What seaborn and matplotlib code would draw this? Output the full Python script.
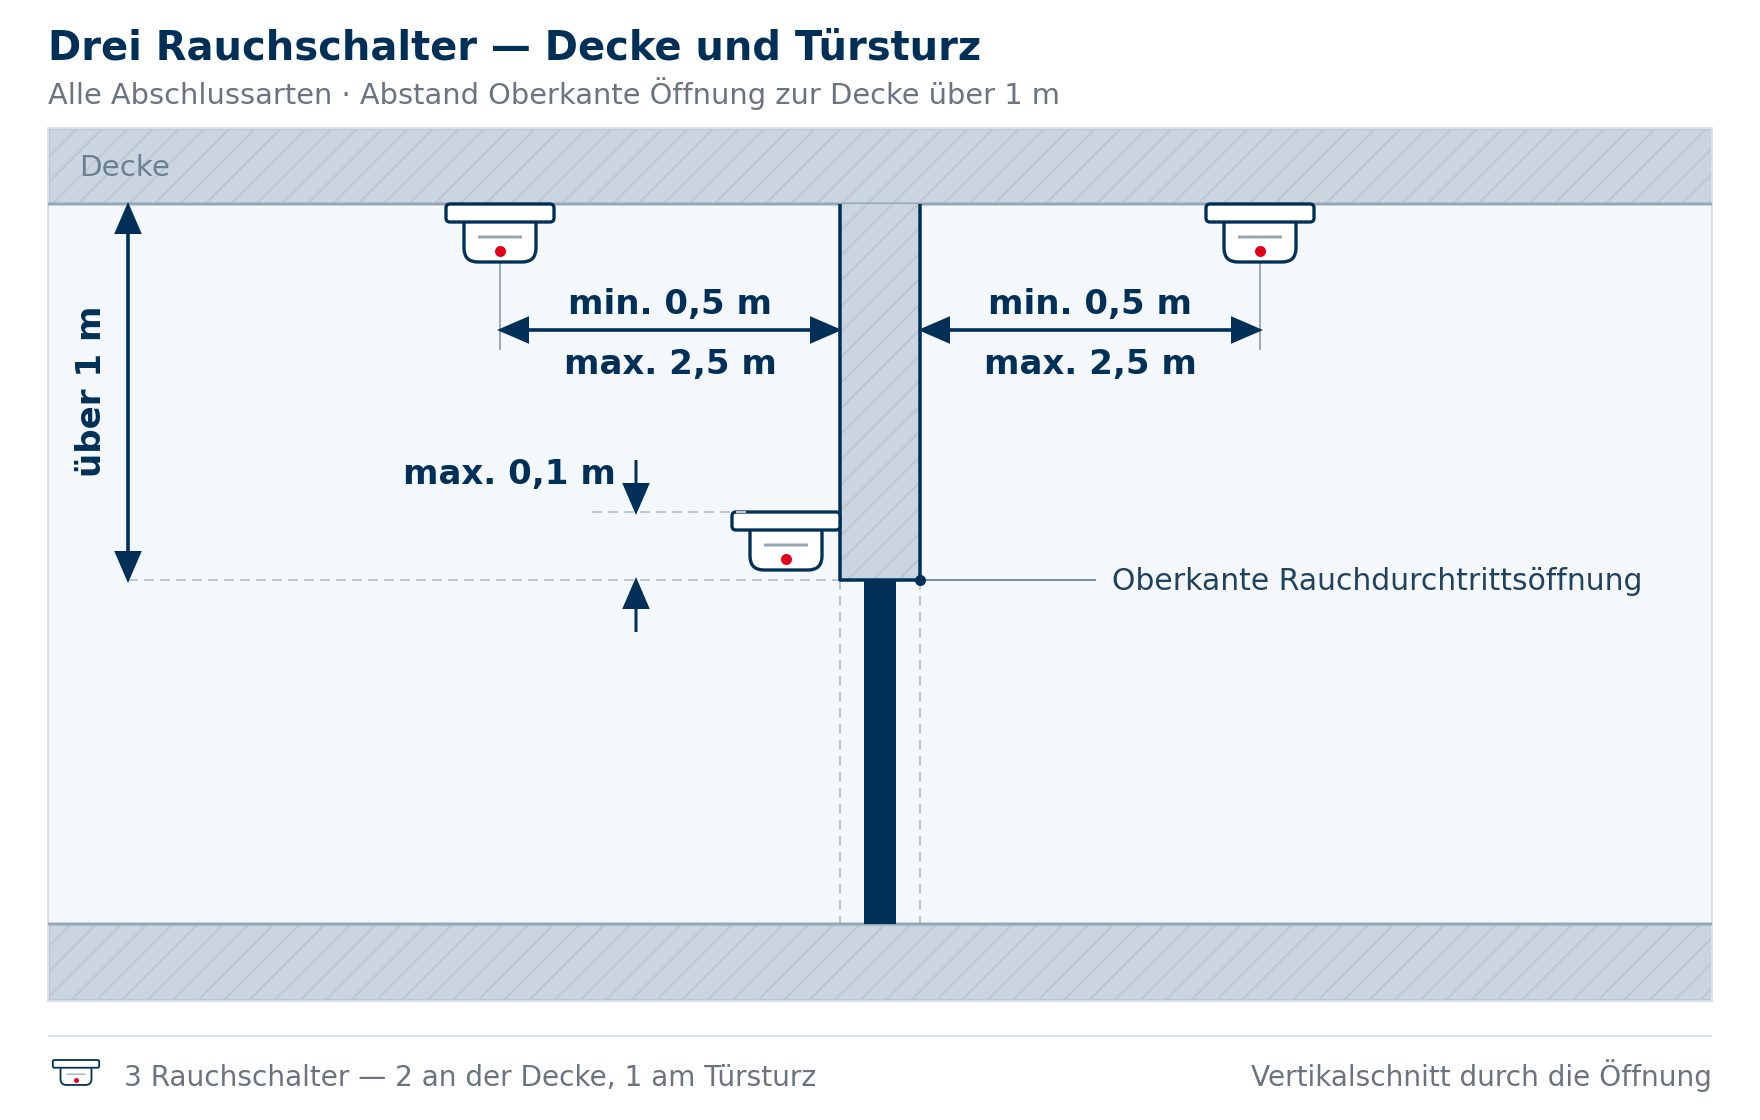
import numpy as np
import pandas as pd
import matplotlib
matplotlib.use("Agg")
import matplotlib.pyplot as plt
from matplotlib.patches import Rectangle, FancyBboxPatch, Polygon
from matplotlib.collections import LineCollection
import seaborn as sns

sns.set_theme(style="white")
plt.rcParams["font.family"] = ["DejaVu Sans"]

NAVY = "#003057"
GREY = "#6b7280"
HATCH = "#bbc7d3"
CONCRETE = "#cbd5e0"
GUIDE = "#bcc7d4"
PX = 0.72  # px to pt at dpi 100

title_text = "Drei Rauchschalter — Decke und Türsturz"
subtitle_text = "Alle Abschlussarten · Abstand Oberkante Öffnung zur Decke über 1 m"
callout_text = "Oberkante Rauchdurchtrittsöffnung"
footer_left = "3 Rauchschalter — 2 an der Decke, 1 am Türsturz"
footer_right = "Vertikalschnitt durch die Öffnung"

# detectors, drawing px
detector_x = [500, 1260, 786]
detector_y = [204, 204, 512]

# horizontal dimensions
dim_x0 = [497, 918]
dim_x1 = [842, 1263]
dim_y = 330
dim_labels_top = ["min. 0,5 m", "min. 0,5 m"]
dim_labels_bot = ["max. 2,5 m", "max. 2,5 m"]
dim_label_x = [670, 1090]

fig = plt.figure(figsize=(17.6, 11.2), dpi=100, facecolor="white")
ax = fig.add_axes([0, 0, 1, 1])
ax.set_xlim(0, 1760)
ax.set_ylim(1120, 0)
ax.axis("off")


def hatched(x, y, w, h, z=2, edge=False):
    r = Rectangle((x, y), w, h, fc=CONCRETE, ec="none", zorder=z)
    ax.add_patch(r)
    k0 = int((x + y) // 25.456) - 1
    k1 = int((x + w + y + h) // 25.456) + 2
    segs = []
    for k in range(k0, k1):
        s = k * 25.456 + 2
        segs.append([(s - y + 5, y - 5), (s - y - h - 5, y + h + 5)])
    lc = LineCollection(segs, colors=HATCH, linewidths=2 * PX, zorder=z + 0.1)
    ax.add_collection(lc)
    lc.set_clip_path(r)
    if edge:
        ax.add_patch(Rectangle((x + 1, y + 1), w - 2, h - 2, fc="none", ec=HATCH, lw=1.2 * PX, zorder=z + 0.2))


def seg(xs, ys, color=NAVY, lw=3.0, z=6, dashed=False):
    df = pd.DataFrame({"x": xs, "y": ys})
    line = sns.lineplot(data=df, x="x", y="y", ax=ax, color=color, lw=lw * PX, sort=False,
                        estimator=None, zorder=z, legend=False).lines[-1]
    line.set_solid_capstyle("butt")
    line.set_snap(False)
    if dashed:
        line.set_dashes((10 / lw, 6 / lw))
        line.set_dash_capstyle("butt")
    return line


def arrow(tip_x, tip_y, dx, dy, ln=32, half=13.8):
    # dx,dy points from the tip back to the base
    bx, by = tip_x + dx * ln, tip_y + dy * ln
    pts = [(tip_x, tip_y), (bx - dy * half, by - dx * half), (bx + dy * half, by + dx * half)]
    ax.add_patch(Polygon(pts, closed=True, fc=NAVY, ec="none", zorder=8))


def detector(cx, top, s=1.0, z=5, lw=3.3):
    # body runs up behind the plate so only its lower corners show
    ax.add_patch(FancyBboxPatch((cx - 36 * s, top + 6 * s), 72 * s, 52 * s,
                                boxstyle=f"round,pad=0,rounding_size={14 * s}",
                                fc="white", ec=NAVY, lw=lw * PX, zorder=z))
    ax.add_patch(FancyBboxPatch((cx - 54 * s, top), 108 * s, 18 * s,
                                boxstyle=f"round,pad=0,rounding_size={4 * s}",
                                fc="white", ec=NAVY, lw=lw * PX, zorder=z + 0.1))
    seg([cx - 22 * s, cx + 22 * s], [top + 33 * s, top + 33 * s], color="#94a8bc", lw=3 * s, z=z + 0.2)


# room
ax.add_patch(Rectangle((47.5, 127.5), 1664.5, 873, fc="#f4f8fb", ec="#d9e0e8", lw=2 * PX, zorder=1))
hatched(48, 128, 1664, 76, edge=True)
hatched(48, 924, 1664, 76, edge=True)
ax.add_patch(Rectangle((47.5, 127.5), 1664.5, 873, fc="none", ec="#d9e0e8", lw=2 * PX, zorder=3))
seg([48, 1712], [204, 204], color="#94a8bc", lw=3, z=3.5)
seg([48, 1712], [924, 924], color="#94a8bc", lw=3, z=3.5)

# guide lines under the door
seg([840, 840], [580, 924], color=GUIDE, lw=2, z=3.2, dashed=True)
seg([920, 920], [580, 924], color=GUIDE, lw=2, z=3.2, dashed=True)

# lintel and door leaf
hatched(840, 204, 80, 376, z=4)
ax.add_patch(Rectangle((864, 580), 32, 344, fc=NAVY, ec="none", zorder=4))
seg([840, 840, 920, 920], [204, 580, 580, 204], lw=3.5, z=4.5).set_solid_joinstyle("round")

# detectors
for cx, cy in zip(detector_x, detector_y):
    detector(cx, cy)
led = pd.DataFrame({"x": detector_x, "y": [v + 47 for v in detector_y]})
sns.scatterplot(data=led, x="x", y="y", ax=ax, color="#e2001a", s=(11 * PX) ** 2, linewidth=0, zorder=7, legend=False)

# drop lines from ceiling detectors
seg([500, 500], [262, 350], color="#9aacbf", lw=2, z=4)
seg([1260, 1260], [262, 350], color="#9aacbf", lw=2, z=4)

# dashed references
seg([592, 746], [512, 512], color=GUIDE, lw=2, z=6.5, dashed=True)
seg([128, 840], [580, 580], color=GUIDE, lw=2, z=3.2, dashed=True)

# horizontal dimensions
for x0, x1, lx, t, b in zip(dim_x0, dim_x1, dim_label_x, dim_labels_top, dim_labels_bot):
    seg([x0 + 10, x1 - 10], [dim_y, dim_y], lw=3.6, z=7.5)
    arrow(x0, dim_y, 1, 0)
    arrow(x1, dim_y, -1, 0)
    ax.text(lx, 314, t, ha="center", va="baseline", fontsize=34 * PX, fontweight="bold", color=NAVY, zorder=9)
    ax.text(lx, 374, b, ha="center", va="baseline", fontsize=34 * PX, fontweight="bold", color=NAVY, zorder=9)

# height dimension
seg([128, 128], [212, 572], lw=3.6, z=7.5)
arrow(128, 202, 0, 1)
arrow(128, 583, 0, -1)
ax.text(101, 391, "über 1 m", rotation=90, ha="center", va="baseline", rotation_mode="anchor",
        fontsize=34 * PX, fontweight="bold", color=NAVY, zorder=9)

# lintel offset
seg([636, 636], [460, 490], lw=3, z=7.5)
arrow(636, 515, 0, -1)
seg([636, 636], [600, 632], lw=3, z=7.5)
arrow(636, 577, 0, 1)
ax.text(616, 484, "max. 0,1 m", ha="right", va="baseline", fontsize=34 * PX, fontweight="bold", color=NAVY, zorder=9)

# callout
seg([920, 1096], [580, 580], color="#7a8ea3", lw=2, z=5)
sns.scatterplot(x=[920], y=[580], ax=ax, color=NAVY, s=(11 * PX) ** 2, linewidth=0, zorder=8, legend=False)
ax.text(1112, 590, callout_text, ha="left", va="baseline", fontsize=29.9 * PX, color="#21425f", zorder=9)

# texts
ax.text(48, 60, title_text, ha="left", va="baseline", fontsize=40 * PX, fontweight="bold", color=NAVY)
ax.text(48, 104, subtitle_text, ha="left", va="baseline", fontsize=28.9 * PX, color=GREY)
ax.text(79, 176, "Decke", ha="left", va="baseline", fontsize=29.4 * PX, color="#6b7f94", zorder=9)

# footer
seg([48, 1712], [1036, 1036], color="#dde3e8", lw=2, z=2)
detector(76, 1060, s=0.43, lw=1.8)
sns.scatterplot(x=[76], y=[1079.5], ax=ax, color="#e2001a", s=(5 * PX) ** 2, linewidth=0, zorder=7, legend=False)
ax.text(124, 1086, footer_left, ha="left", va="baseline", fontsize=28.05 * PX, color=GREY)
ax.text(1712, 1086, footer_right, ha="right", va="baseline", fontsize=28.05 * PX, color=GREY)

ax.set_xlim(0, 1760)
ax.set_ylim(1120, 0)
ax.set_xlabel("")
ax.set_ylabel("")
fig.savefig("out.png", dpi=100, facecolor="white")
